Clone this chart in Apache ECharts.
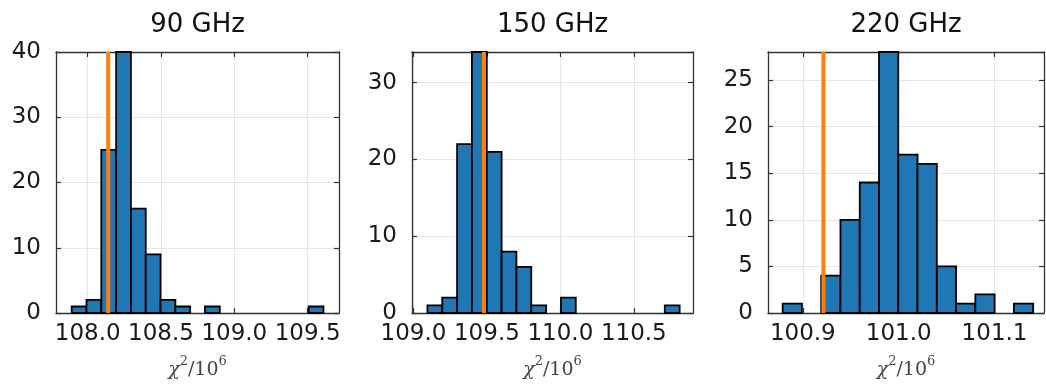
<!DOCTYPE html>
<html><head><meta charset="utf-8">
<script src="https://cdn.jsdelivr.net/npm/echarts@6/dist/echarts.min.js"></script>
<style>html,body{margin:0;padding:0;background:#fff}#c{width:1046px;height:384px}</style>
</head><body><div id="c"></div>
<script>
// ---- data ----
const titles = ['90 GHz', '150 GHz', '220 GHz'];
const binStart = [107.891, 109.095, 100.879];
const binWidth = [0.101, 0.101, 0.0201];
const counts90  = [1, 2, 25, 40, 16, 9, 2, 1, 0, 1, 0, 0, 0, 0, 0, 0, 1];
const counts150 = [1, 2, 22, 34, 21, 8, 6, 1, 0, 2, 0, 0, 0, 0, 0, 0, 1];
const counts220 = [1, 0, 4, 10, 14, 28, 17, 16, 5, 1, 2, 0, 1];
const refValues = [108.14, 109.48, 100.9215];
const xTicks90  = [108.0, 108.5, 109.0, 109.5];
const xTicks150 = [109.0, 109.5, 110.0, 110.5];
const xTicks220 = [100.9, 101.0, 101.1];
const xRanges = [[107.784, 109.714], [108.99, 110.903], [100.8637, 101.1516]];
const yMax = [40, 34, 28];
const yInterval = [10, 10, 5];
const xName = '{i|χ}{s|2}{m|/10}{s|6}';

// ---- layout ----
const grids = [
  {left: 56, top: 52, width: 283, height: 261},
  {left: 412, top: 52, width: 281, height: 261},
  {left: 768, top: 52, width: 276, height: 261}
];
const countsAll = [counts90, counts150, counts220];
const xTicksAll = [xTicks90, xTicks150, xTicks220];

const frame = {show: true, onZero: false, lineStyle: {color: '#333', width: 1.3}};
const tickStyle = {color: '#333', width: 1.2};
const labelFont = {fontFamily: 'DejaVu Sans', fontSize: 23, color: '#1a1a1a'};

const option = {
  backgroundColor: '#fff',
  animation: false,
  title: titles.map((t, i) => ({
    text: t, left: grids[i].left + grids[i].width / 2, top: 12, textAlign: 'center', padding: 0,
    textStyle: {fontFamily: 'DejaVu Sans', fontSize: 26, fontWeight: 'normal', color: '#111'}
  })),
  grid: grids.map(g => Object.assign({outerBoundsMode: 'none', containLabel: false}, g)),
  xAxis: [],
  yAxis: [],
  series: []
};

for (let i = 0; i < 3; i++) {
  const ticks = xTicksAll[i];
  option.xAxis.push({
    type: 'value', gridIndex: i, position: 'bottom', min: xRanges[i][0], max: xRanges[i][1],
    axisLine: frame,
    axisTick: {show: true, inside: true, length: 5, lineStyle: tickStyle, customValues: ticks},
    axisLabel: Object.assign({show: true, margin: 10, customValues: ticks, formatter: v => v.toFixed(1)}, labelFont),
    splitLine: {show: true, lineStyle: {color: '#e6e6e6', width: 1}},
    name: xName, nameLocation: 'middle', nameGap: 42,
    nameTextStyle: {
      fontFamily: 'DejaVu Serif', fontSize: 19, color: '#444',
      rich: {
        i: {fontFamily: 'DejaVu Serif', fontStyle: 'italic', fontSize: 19, lineHeight: 25, color: '#444', verticalAlign: 'bottom'},
        m: {fontFamily: 'DejaVu Serif', fontSize: 19, lineHeight: 25, color: '#444', verticalAlign: 'bottom'},
        s: {fontFamily: 'DejaVu Serif', fontSize: 13, lineHeight: 13, color: '#444', verticalAlign: 'top'}
      }
    }
  });
  option.xAxis.push({
    type: 'value', gridIndex: i, position: 'top', min: xRanges[i][0], max: xRanges[i][1],
    axisLine: frame,
    axisTick: {show: true, inside: true, length: 5, lineStyle: tickStyle, customValues: ticks},
    axisLabel: {show: false},
    splitLine: {show: false}
  });
  option.yAxis.push({
    type: 'value', gridIndex: i, position: 'left', min: 0, max: yMax[i], interval: yInterval[i],
    axisLine: frame,
    axisTick: {show: true, inside: true, length: 5, lineStyle: tickStyle},
    axisLabel: Object.assign({show: true, margin: 15, showMaxLabel: yMax[i] % yInterval[i] === 0}, labelFont),
    splitLine: {show: true, lineStyle: {color: '#e6e6e6', width: 1}}
  });
  option.yAxis.push({
    type: 'value', gridIndex: i, position: 'right', min: 0, max: yMax[i], interval: yInterval[i],
    axisLine: frame,
    axisTick: {show: true, inside: true, length: 5, lineStyle: tickStyle},
    axisLabel: {show: false},
    splitLine: {show: false}
  });

  const data = countsAll[i].map((c, k) => [binStart[i] + k * binWidth[i], binStart[i] + (k + 1) * binWidth[i], c]);
  option.series.push({
    type: 'custom', xAxisIndex: 2 * i, yAxisIndex: 2 * i, z: 2,
    encode: {x: [0, 1], y: 2},
    data: data,
    renderItem: function (params, api) {
      const c = api.value(2);
      if (!(c > 0)) return null;
      const p0 = api.coord([api.value(0), c]);
      const p1 = api.coord([api.value(1), 0]);
      return {
        type: 'rect',
        shape: {x: p0[0], y: p0[1], width: p1[0] - p0[0], height: p1[1] - p0[1]},
        style: {fill: '#1f77b4', stroke: '#000', lineWidth: 1.8}
      };
    }
  });
  option.series.push({
    type: 'line', xAxisIndex: 2 * i, yAxisIndex: 2 * i, z: 5,
    symbol: 'none', silent: true,
    lineStyle: {color: '#ff7f0e', width: 4},
    data: [[refValues[i], 0], [refValues[i], yMax[i]]]
  });
}

const chart = echarts.init(document.getElementById('c'), null, {renderer: 'canvas'});
chart.setOption(option);
</script>
</body></html>
